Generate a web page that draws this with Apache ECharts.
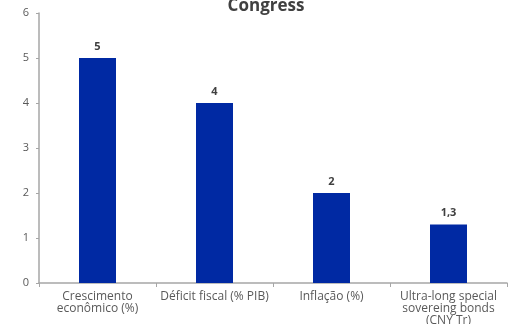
<!DOCTYPE html>
<html><head><meta charset="utf-8">
<script src="https://cdn.jsdelivr.net/npm/echarts@6/dist/echarts.min.js"></script>
<style>html,body{margin:0;padding:0;background:#fff}#c{width:515px;height:324px}</style>
</head><body><div id="c"></div>
<script>
const titleText = 'Congress';
const categories = ['Crescimento\neconômico (%)', 'Déficit fiscal (% PIB)', 'Inflação (%)', 'Ultra-long special\nsovereing bonds\n(CNY Tr)'];
const values = [5, 4, 2, 1.3];
const yTicks = {min: 0, max: 6, interval: 1};

const chart = echarts.init(document.getElementById('c'));
chart.setOption({
  animation: false,
  title: {text: titleText, left: 261, textAlign: 'center', top: -7,
    textStyle: {fontFamily: 'Open Sans', fontSize: 17, fontWeight: 'bold', color: '#404040'}},
  grid: {left: 39, right: 8, top: 13, bottom: 41, containLabel: false, outerBoundsMode: 'none'},
  xAxis: {type: 'category', data: categories,
    axisLine: {lineStyle: {color: '#a6a6a6', width: 1.5}},
    axisTick: {show: true, length: 4, lineStyle: {color: '#a6a6a6'}},
    axisLabel: {interval: 0, margin: 8, color: '#595959', fontFamily: 'Open Sans', fontSize: 12, lineHeight: 12}},
  yAxis: {type: 'value', min: yTicks.min, max: yTicks.max, interval: yTicks.interval,
    splitLine: {show: false},
    axisLine: {show: true, lineStyle: {color: '#a6a6a6', width: 1.5}},
    axisTick: {show: true, length: 3, lineStyle: {color: '#a6a6a6'}},
    axisLabel: {margin: 10, color: '#595959', fontFamily: 'Open Sans', fontSize: 11}},
  series: [{type: 'bar', data: values, barWidth: 37,
    itemStyle: {color: '#0029a3'},
    label: {show: true, position: 'top', distance: 6, color: '#404040', fontFamily: 'Open Sans', fontSize: 11, fontWeight: 'bold',
      formatter: p => String(p.value).replace('.', ',')}}]
});
</script></body></html>
